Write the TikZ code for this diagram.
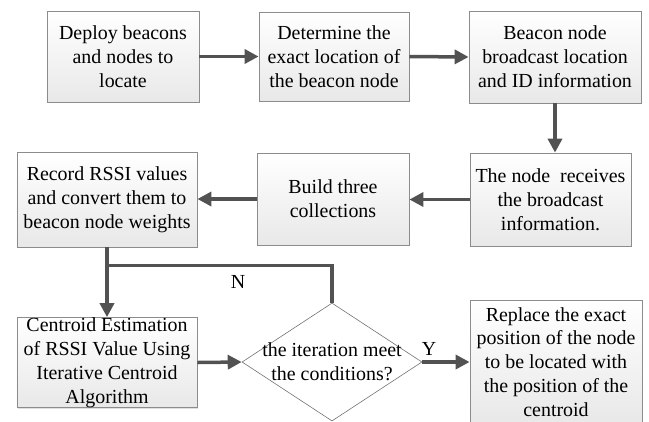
\documentclass[tikz,border=0pt]{standalone}
\usepackage{fontspec}
\setmainfont{Liberation Serif}
\usetikzlibrary{arrows.meta,shapes.geometric,shadows}
\newcommand{\bx}[4]{node[box,minimum width=#1bp,minimum height=#2bp](#3){#4}}
\newcommand{\lab}[2]{node(#1){#2}}

\begin{document}
\begin{tikzpicture}[x=1bp,y=-1bp,font=\fontsize{20}{24}\selectfont,
    box/.style={draw=black!45,line width=0.8bp,top color=white,bottom color=black!9,
      align=center,inner sep=0pt,drop shadow={shadow xshift=1.2bp,shadow yshift=-1.2bp,opacity=0.25}},
    link/.style={draw=black!68,line width=3.5bp},
    arr/.style={link,-{Triangle[length=14bp,width=14bp]}}]
      \useasboundingbox (0,0) rectangle (649,421);
      % first row
      \path (123,56.5) \bx{152}{91}{deploy}{Deploy beacons\\and nodes to\\locate};
      \path (334,56.5) \bx{150}{89}{determine}{Determine the\\exact location of\\the beacon node};
      \path (555,57) \bx{172}{92}{beacon}{Beacon node\\broadcast location\\and ID information};
      % second row
      \path (550.5,199.5) \bx{161}{93}{receive}{The node\ \ receives\\the broadcast\\information.};
      \path (333,199) \bx{152}{92}{build}{Build three\\collections};
      \path (107,199.5) \bx{180}{95}{record}{Record RSSI values\\and convert them to\\beacon node weights};
      % third row
      \path (107,362.5) \bx{180}{89}{centroid}{Centroid Estimation\\of RSSI Value Using\\Iterative Centroid\\Algorithm};
      \node[diamond,draw=black!55,line width=0.6bp,fill=white,inner sep=0pt,
        minimum width=180bp,minimum height=118bp] (dec) at (332,362) {};
      \node[align=center] (dectext) at (dec) {the iteration meet\\the conditions?};
      \path (556,362) \bx{172}{124}{replace}{Replace the exact\\position of the node\\to be located with\\the position of the\\centroid};
      \coordinate (join) at ([yshift=-18bp]record.south);
      % connectors
      \draw[arr] (deploy.east) -- (determine.west);
      \draw[arr] (determine.east) -- (beacon.west);
      \draw[arr] (beacon.south) -- (beacon.south |- receive.north);
      \draw[arr] (receive.west) -- (receive.west -| build.east);
      \draw[arr] (build.west) -- (build.west -| record.east);
      \draw[arr] (record.south) -- (centroid.north);
      \draw[link] (dec.north) |- (join);
      \draw[arr] (centroid.east) -- (dec.west);
      \draw[arr] (dec.east) -- (replace.west);
      \path (238,282) \lab{nlab}{N} (429,349) \lab{ylab}{Y};
\end{tikzpicture}
\end{document}
